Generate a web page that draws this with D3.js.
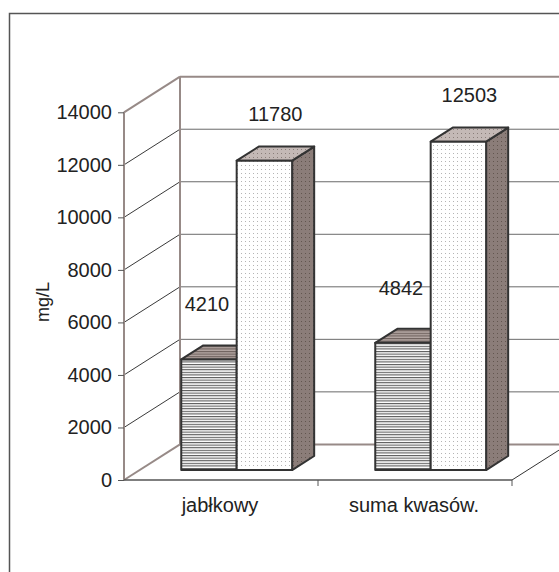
<!DOCTYPE html>
<html>
<head>
<meta charset="utf-8">
<script src="https://cdn.jsdelivr.net/npm/d3@7"></script>
<style>
  html, body { margin: 0; padding: 0; background: #fff; }
  svg { display: block; }
  text { font-family: "Liberation Sans", Arial, sans-serif; fill: #222; }
</style>
</head>
<body>
<svg id="chart" width="559" height="572"></svg>
<script>
// ---- data ----
const categories = ["jabłkowy", "suma kwasów."];
const seriesNames = ["s1", "s2"];
const series1 = [4210, 4842];
const series2 = [11780, 12503];
const yTicks = [0, 2000, 4000, 6000, 8000, 10000, 12000, 14000];
const yTitle = "mg/L";

// ---- layout ----
const svg = d3.select("#chart");
const DX = 56, DY = -35.6;          // full depth projection
const F0 = 0.28, F1 = 0.674;         // bar depth (front/back) as fraction of floor depth

const y = d3.scaleLinear().domain([0, 14000]).range([480, 112.3]);
const x0 = d3.scaleBand().domain(categories).range([124, 512]).paddingInner(0).paddingOuter(0);
const x1 = d3.scaleBand().domain(seriesNames).range([0, x0.bandwidth()]).paddingInner(0).paddingOuter(0.75);

const P = (x, v, f) => [x + f * DX, y(v) + f * DY];

// ---- patterns ----
const defs = svg.append("defs");
function stripes(id, bg, fg) {
  const p = defs.append("pattern").attr("id", id).attr("patternUnits", "userSpaceOnUse")
    .attr("width", 4).attr("height", 2.6);
  p.append("rect").attr("width", 4).attr("height", 2.6).attr("fill", bg);
  p.append("rect").attr("width", 4).attr("height", 1.1).attr("fill", fg);
}
function dots(id, bg, fg) {
  const p = defs.append("pattern").attr("id", id).attr("patternUnits", "userSpaceOnUse")
    .attr("width", 4).attr("height", 4);
  p.append("rect").attr("width", 4).attr("height", 4).attr("fill", bg);
  p.append("rect").attr("x", 1).attr("y", 1).attr("width", 1).attr("height", 1).attr("fill", fg);
}
stripes("s1front", "#ffffff", "#5a5a5a");
stripes("s1top", "#b3a6a2", "#6e615d");
stripes("s1side", "#8b7d79", "#5a4e4b");
dots("s2front", "#ffffff", "#b4b4b4");
dots("s2top", "#c4b9b6", "#8a7e7a");
dots("s2side", "#8b7d79", "#62564f");

// ---- outer border ----
svg.append("rect").attr("x", 9.5).attr("y", 13.5).attr("width", 620).attr("height", 620)
  .attr("fill", "none").attr("stroke", "#555").attr("stroke-width", 1.5);

const wallColor = "#978a87";
const xL = x0.range()[0], xR = x0.range()[1];

// back wall gridlines
svg.append("g").selectAll("line").data(yTicks.filter(v => v > 0 && v < 14000)).join("line")
  .attr("x1", P(xL, 0, 1)[0]).attr("x2", P(xR, 0, 1)[0])
  .attr("y1", d => P(xL, d, 1)[1]).attr("y2", d => P(xL, d, 1)[1])
  .attr("stroke", "#6a6a6a").attr("stroke-width", 1);

// side wall gridlines
svg.append("g").selectAll("line").data(yTicks.filter(v => v > 0 && v < 14000)).join("line")
  .attr("x1", d => P(xL, d, 0)[0]).attr("y1", d => P(xL, d, 0)[1])
  .attr("x2", d => P(xL, d, 1)[0]).attr("y2", d => P(xL, d, 1)[1])
  .attr("stroke", "#222").attr("stroke-width", 0.9);

// wall edges (brownish)
const wallEdges = [
  [P(xL, 14000, 0), P(xL, 14000, 1)],
  [P(xL, 14000, 1), P(xR, 14000, 1)],
  [P(xL, 14000, 1), P(xL, 0, 1)],
  [P(xL, 0, 1), P(xR, 0, 1)],
  [P(xL, 0, 0), P(xL, 0, 1)],
  [P(xL, 0, 0), P(xL, 14000, 0)]
];
svg.append("g").selectAll("line").data(wallEdges).join("line")
  .attr("x1", d => d[0][0]).attr("y1", d => d[0][1])
  .attr("x2", d => d[1][0]).attr("y2", d => d[1][1])
  .attr("stroke", wallColor).attr("stroke-width", 2);

// floor right edge + front baseline
svg.append("line").attr("x1", xR).attr("y1", y(0)).attr("x2", P(xR, 0, 1)[0]).attr("y2", P(xR, 0, 1)[1])
  .attr("stroke", "#333").attr("stroke-width", 1);
svg.append("line").attr("x1", xL).attr("y1", y(0)).attr("x2", xR).attr("y2", y(0))
  .attr("stroke", "#555").attr("stroke-width", 1.5);

// x ticks (category boundaries)
svg.append("g").selectAll("line").data(categories).join("line")
  .attr("x1", d => x0(d) + x0.bandwidth()).attr("x2", d => x0(d) + x0.bandwidth())
  .attr("y1", y(0)).attr("y2", y(0) + 6)
  .attr("stroke", "#555").attr("stroke-width", 1);

// y axis (ticks + labels)
const yAxis = svg.append("g").attr("transform", `translate(${xL},0)`)
  .call(d3.axisLeft(y).tickValues(yTicks).tickSize(6).tickPadding(6).tickFormat(d3.format("d")));
yAxis.select(".domain").remove();
yAxis.selectAll(".tick line").attr("stroke", "#555");
yAxis.selectAll(".tick text").attr("font-size", 20).attr("fill", "#222")
  .style("font-family", '"Liberation Sans", Arial, sans-serif');

// category labels
svg.append("g").selectAll("text").data(categories).join("text")
  .attr("x", d => x0(d) + x0.bandwidth() / 2 - 1).attr("y", 512)
  .attr("text-anchor", "middle").attr("font-size", 20).text(d => d);

// y title
svg.append("text").attr("transform", "translate(49,302) rotate(-90)")
  .attr("text-anchor", "middle").attr("font-size", 18).text(yTitle);

// ---- bars ----
const bars = [];
categories.forEach((c, i) => {
  bars.push({ cat: c, s: "s1", v: series1[i] });
  bars.push({ cat: c, s: "s2", v: series2[i] });
});
const poly = pts => pts.map(p => p.join(",")).join(" ");
const gBars = svg.append("g");
bars.forEach(b => {
  const xa = x0(b.cat) + x1(b.s), xb = xa + x1.bandwidth();
  const g = gBars.append("g");
  g.append("polygon").attr("points", poly([P(xb, 0, F0), P(xb, 0, F1), P(xb, b.v, F1), P(xb, b.v, F0)]))
    .attr("fill", `url(#${b.s}side)`).attr("stroke", "#333").attr("stroke-width", 2).attr("stroke-linejoin", "round");
  g.append("polygon").attr("points", poly([P(xa, b.v, F0), P(xb, b.v, F0), P(xb, b.v, F1), P(xa, b.v, F1)]))
    .attr("fill", `url(#${b.s}top)`).attr("stroke", "#333").attr("stroke-width", 2).attr("stroke-linejoin", "round");
  g.append("polygon").attr("points", poly([P(xa, 0, F0), P(xb, 0, F0), P(xb, b.v, F0), P(xa, b.v, F0)]))
    .attr("fill", `url(#${b.s}front)`).attr("stroke", "#333").attr("stroke-width", 2).attr("stroke-linejoin", "round");
});

// value labels
svg.append("g").selectAll("text").data(bars).join("text")
  .attr("x", d => {
    const xa = x0(d.cat) + x1(d.s);
    return P(xa + x1.bandwidth() / 2, d.v, F0)[0] + (d.s === "s1" ? -2 : 11);
  })
  .attr("y", d => P(0, d.v, F0)[1] - (d.s === "s1" ? 48 : 40))
  .attr("text-anchor", "middle").attr("font-size", 20).text(d => d.v);
</script>
</body>
</html>
